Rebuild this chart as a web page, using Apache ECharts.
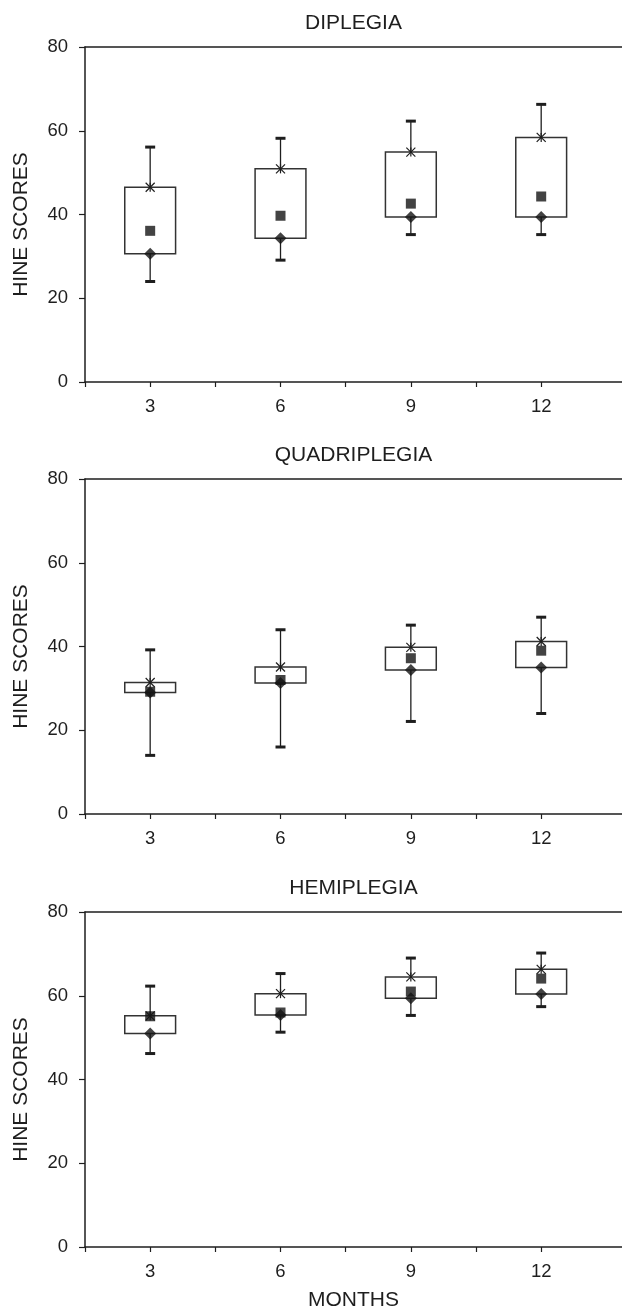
<!DOCTYPE html>
<html>
<head>
<meta charset="utf-8">
<script src="https://cdn.jsdelivr.net/npm/echarts@6/dist/echarts.min.js"></script>
<style>
  html, body { margin: 0; padding: 0; background: #fff; }
  #chart { width: 622px; height: 1313px; }
</style>
</head>
<body>
<div id="chart"></div>
<script>
  // months on the x axis
  const months = ['3', '6', '9', '12'];
  const yTicks = [0, 20, 40, 60, 80];
  // tick marks sit at each month and half way between them
  const xTickPos = [0.5, 1, 1.5, 2, 2.5, 3, 3.5, 4];

  // DIPLEGIA
  const diMin = [24.0, 29.1, 35.2, 35.2];
  const diQ1 = [30.6, 34.3, 39.4, 39.4];
  const diMean = [36.1, 39.7, 42.6, 44.3];
  const diQ3 = [46.5, 50.9, 54.9, 58.4];
  const diMax = [56.1, 58.2, 62.3, 66.3];

  // QUADRIPLEGIA
  const quMin = [14.0, 16.0, 22.1, 24.0];
  const quQ1 = [29.0, 31.3, 34.4, 35.0];
  const quMean = [29.2, 32.0, 37.2, 39.0];
  const quQ3 = [31.4, 35.1, 39.8, 41.2];
  const quMax = [39.2, 44.0, 45.1, 47.0];

  // HEMIPLEGIA
  const heMin = [46.2, 51.3, 55.3, 57.4];
  const heQ1 = [51.0, 55.4, 59.4, 60.4];
  const heMean = [55.1, 56.0, 61.0, 64.1];
  const heQ3 = [55.2, 60.5, 64.5, 66.3];
  const heMax = [62.3, 65.3, 69.0, 70.2];

  const panels = [
    { title: 'DIPLEGIA', min: diMin, q1: diQ1, mean: diMean, q3: diQ3, max: diMax },
    { title: 'QUADRIPLEGIA', min: quMin, q1: quQ1, mean: quMean, q3: quQ3, max: quMax },
    { title: 'HEMIPLEGIA', min: heMin, q1: heQ1, mean: heMean, q3: heQ3, max: heMax }
  ];

  const font = "'Liberation Sans', Arial, sans-serif";
  const ink = '#1e1e1e';
  const grids = [], xAxes = [], yAxes = [], series = [];
  const tops = [47, 479, 912];

  // whisker + box + star at Q3
  function renderBox(params, api) {
    const x = api.value(0);
    const lo = api.coord([x, api.value(1)]);
    const q1 = api.coord([x, api.value(2)]);
    const q3 = api.coord([x, api.value(3)]);
    const hi = api.coord([x, api.value(4)]);
    const w = api.size([0.39, 0])[0];
    const cx = lo[0];
    const s = 4.5;
    return {
      type: 'group',
      children: [
        { type: 'line', shape: { x1: cx, y1: lo[1], x2: cx, y2: hi[1] }, style: { stroke: ink, lineWidth: 1.3 } },
        { type: 'line', shape: { x1: cx - 5, y1: hi[1], x2: cx + 5, y2: hi[1] }, style: { stroke: ink, lineWidth: 3 } },
        { type: 'line', shape: { x1: cx - 5, y1: lo[1], x2: cx + 5, y2: lo[1] }, style: { stroke: ink, lineWidth: 3 } },
        { type: 'rect', shape: { x: cx - w / 2, y: q3[1], width: w, height: q1[1] - q3[1] }, style: { fill: '#fff', stroke: '#333', lineWidth: 1.5 } },
        { type: 'line', shape: { x1: cx - s, y1: q3[1] - s, x2: cx + s, y2: q3[1] + s }, style: { stroke: ink, lineWidth: 1.2 } },
        { type: 'line', shape: { x1: cx - s, y1: q3[1] + s, x2: cx + s, y2: q3[1] - s }, style: { stroke: ink, lineWidth: 1.2 } },
        { type: 'line', shape: { x1: cx, y1: q3[1] - s, x2: cx, y2: q3[1] + s }, style: { stroke: ink, lineWidth: 1.2 } }
      ]
    };
  }

  panels.forEach(function (p, i) {
    grids.push({ left: 85, right: 0, top: tops[i], height: 335 });

    // bottom axis with month labels
    xAxes.push({
      type: 'value', gridIndex: i, min: 0.5, max: 4.62,
      position: 'bottom',
      name: i === 2 ? 'MONTHS' : '',
      nameLocation: 'middle', nameGap: 43,
      nameTextStyle: { fontFamily: font, fontSize: 21, color: ink },
      axisLine: { lineStyle: { color: ink, width: 1.5 } },
      axisTick: { length: 5, customValues: xTickPos, lineStyle: { color: ink, width: 1.2 } },
      axisLabel: {
        fontFamily: font, fontSize: 18.5, color: ink, margin: 15,
        customValues: [1, 2, 3, 4],
        formatter: function (v) { return months[Math.round(v) - 1]; }
      },
      splitLine: { show: false }
    });
    // top frame line carrying the panel title
    xAxes.push({
      type: 'value', gridIndex: i, min: 0.5, max: 4.62, position: 'top',
      name: p.title, nameLocation: 'middle', nameGap: 13,
      nameTextStyle: { fontFamily: font, fontSize: 21, color: ink },
      axisLine: { show: true, lineStyle: { color: ink, width: 1.5 } },
      axisTick: { show: false }, axisLabel: { show: false }, splitLine: { show: false }
    });

    yAxes.push({
      type: 'value', gridIndex: i, min: yTicks[0], max: yTicks[yTicks.length - 1], interval: 20,
      name: 'HINE SCORES', nameLocation: 'middle', nameRotate: 90, nameGap: 53,
      nameTextStyle: { fontFamily: font, fontSize: 21, color: ink, padding: [0, 20, 0, 0] },
      axisLine: { show: true, lineStyle: { color: ink, width: 1.5 } },
      axisTick: { show: true, length: 6, lineStyle: { color: ink, width: 1.2 } },
      axisLabel: { fontFamily: font, fontSize: 18.5, color: ink, margin: 17 },
      splitLine: { show: false }
    });

    const boxData = months.map(function (m, k) {
      return [k + 1, p.min[k], p.q1[k], p.q3[k], p.max[k]];
    });
    series.push({
      type: 'custom', xAxisIndex: i * 2, yAxisIndex: i, z: 2,
      renderItem: renderBox,
      encode: { x: 0, y: [1, 2, 3, 4] },
      data: boxData
    });
    series.push({
      type: 'scatter', xAxisIndex: i * 2, yAxisIndex: i, z: 3,
      symbol: 'diamond', symbolSize: [12, 12],
      itemStyle: { color: '#141414' },
      data: months.map(function (m, k) { return [k + 1, p.q1[k]]; })
    });
    series.push({
      type: 'scatter', xAxisIndex: i * 2, yAxisIndex: i, z: 4,
      symbol: 'rect', symbolSize: 10,
      itemStyle: { color: '#141414' },
      data: months.map(function (m, k) { return [k + 1, p.mean[k]]; })
    });
  });

  const chart = echarts.init(document.getElementById('chart'));
  chart.setOption({
    animation: false,
    backgroundColor: '#fff',
    grid: grids,
    xAxis: xAxes,
    yAxis: yAxes,
    series: series
  });
</script>
</body>
</html>
